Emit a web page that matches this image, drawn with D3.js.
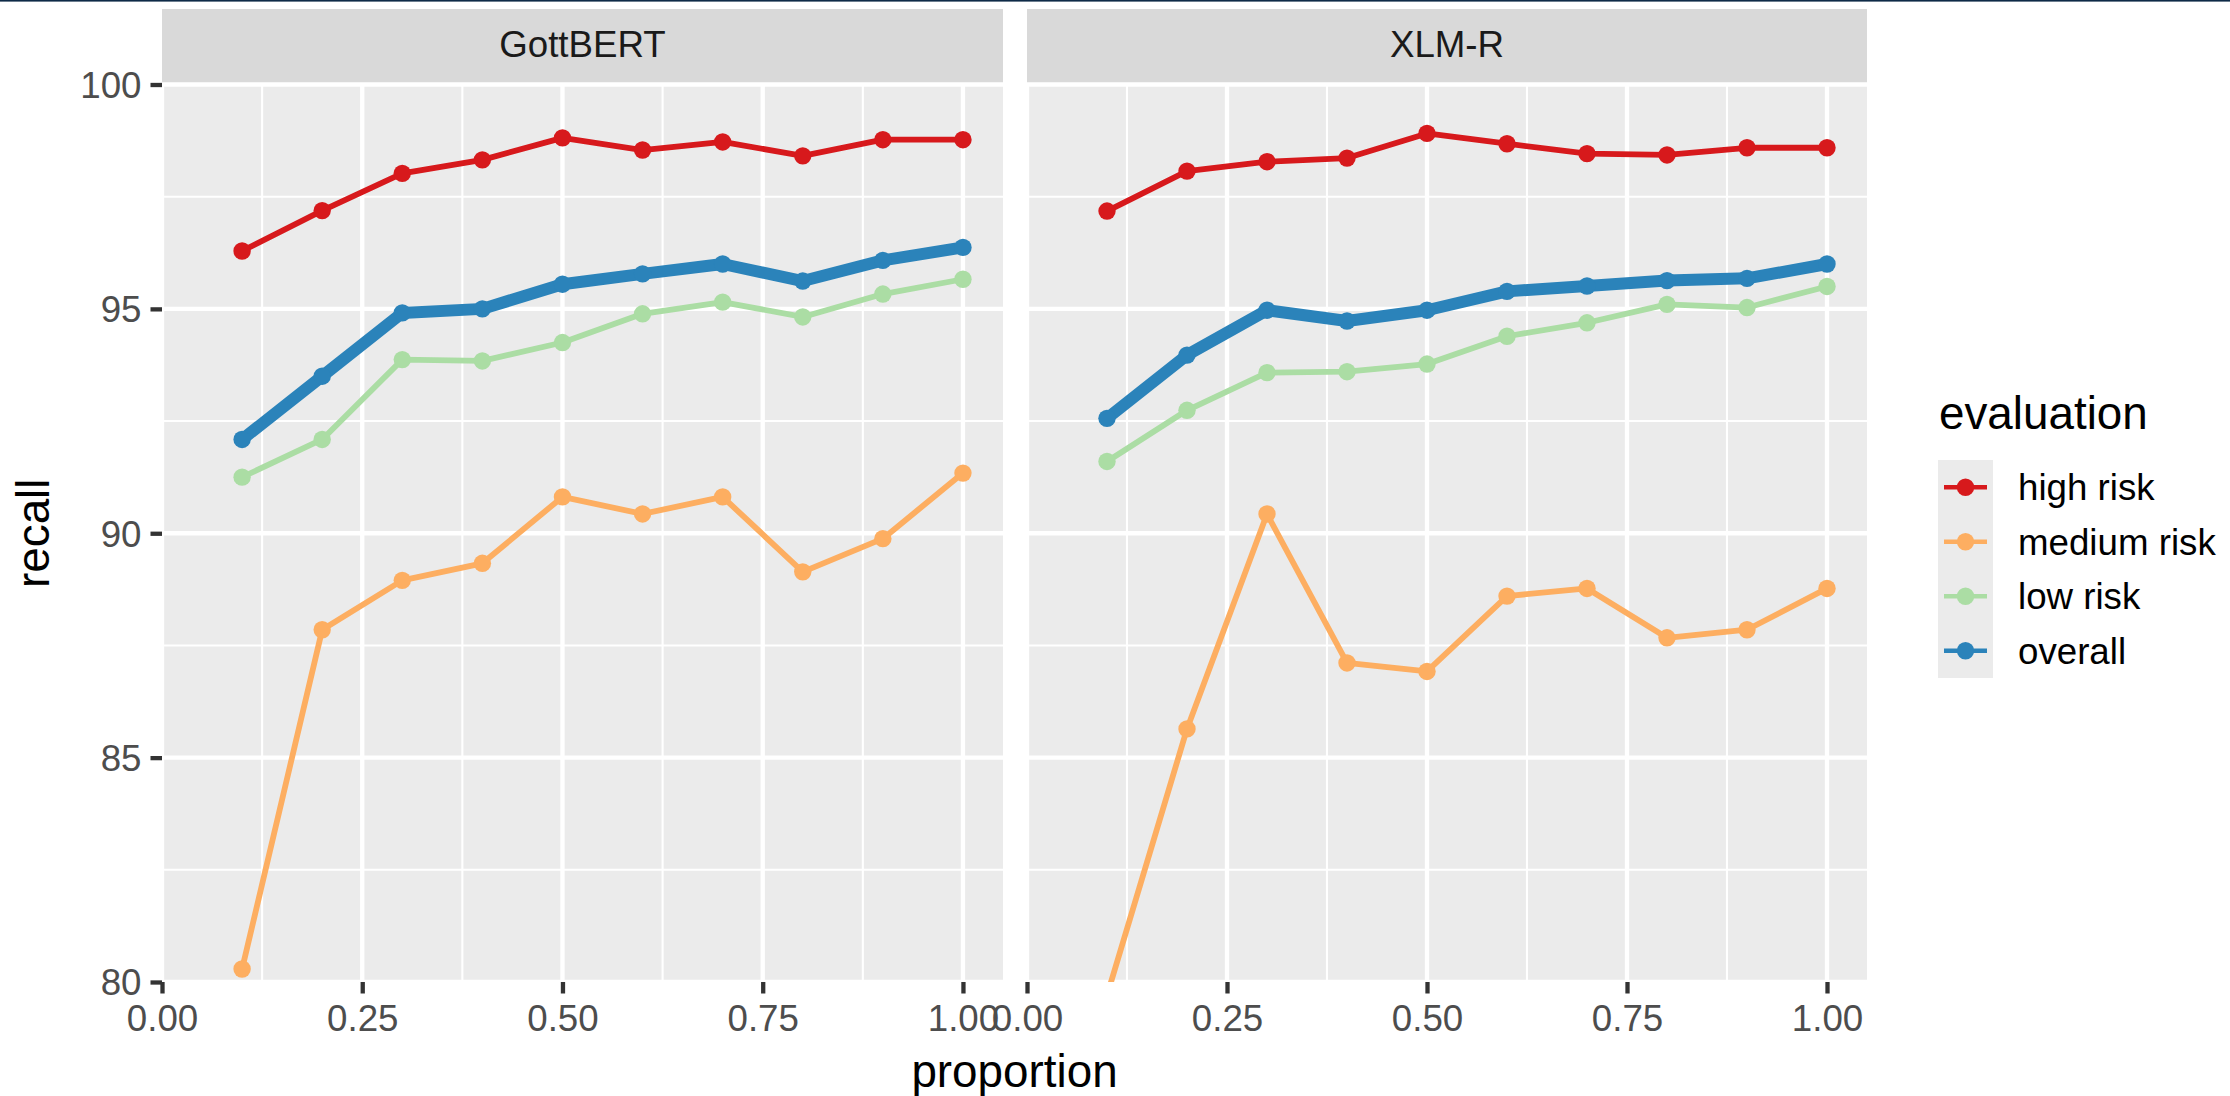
<!DOCTYPE html>
<html>
<head>
<meta charset="utf-8">
<script src="https://cdn.jsdelivr.net/npm/d3@7"></script>
<style>
  html, body { margin: 0; padding: 0; background: #ffffff; }
  svg { display: block; }
</style>
</head>
<body>
<svg id="chart" width="2230" height="1096"></svg>
<script>
// ---- data ----
const proportions = [0.1, 0.2, 0.3, 0.4, 0.5, 0.6, 0.7, 0.8, 0.9, 1.0];
const models = ["GottBERT", "XLM-R"];
const evaluations = ["high risk", "medium risk", "low risk", "overall"];

const gottbertHigh    = [96.29, 97.19, 98.02, 98.32, 98.81, 98.54, 98.72, 98.41, 98.77, 98.77];
const gottbertMedium  = [80.29, 87.85, 88.95, 89.33, 90.81, 90.43, 90.81, 89.14, 89.88, 91.34];
const gottbertLow     = [91.25, 92.09, 93.87, 93.84, 94.25, 94.89, 95.15, 94.82, 95.33, 95.66];
const gottbertOverall = [92.09, 93.50, 94.91, 95.00, 95.55, 95.78, 96.00, 95.62, 96.08, 96.37];

const xlmrHigh    = [97.18, 98.07, 98.28, 98.36, 98.91, 98.68, 98.46, 98.43, 98.59, 98.59];
const xlmrMedium  = [79.70, 85.64, 90.43, 87.11, 86.92, 88.60, 88.77, 87.67, 87.85, 88.77];
const xlmrLow     = [91.60, 92.74, 93.58, 93.60, 93.77, 94.39, 94.69, 95.10, 95.03, 95.50];
const xlmrOverall = [92.56, 93.97, 94.97, 94.73, 94.97, 95.39, 95.51, 95.63, 95.68, 96.00];

const xTicks = [0, 0.25, 0.5, 0.75, 1.0];
const xMinor = [0.125, 0.375, 0.625, 0.875];
const yTicks = [80, 85, 90, 95, 100];
const yMinor = [82.5, 87.5, 92.5, 97.5];

const seriesByModel = {
  "GottBERT": [gottbertHigh, gottbertMedium, gottbertLow, gottbertOverall],
  "XLM-R":    [xlmrHigh, xlmrMedium, xlmrLow, xlmrOverall]
};

const colors = ["#D7191C", "#FDAE61", "#ABDDA4", "#2B83BA"];

// ---- layout ----
const FONT = "'Liberation Sans', Arial, Helvetica, sans-serif";
const svg = d3.select("#chart");
const panelTop = 84.5, panelBottom = 982;
const stripTop = 9;
const panels = [{x0: 162, x1: 1003}, {x0: 1027, x1: 1867}];

// top border line seen in reference
svg.append("rect").attr("x", 0).attr("y", 0).attr("width", 2230).attr("height", 1.6).attr("fill", "#0E2A47");

const y = d3.scaleLinear().domain([80, 100]).range([panelBottom, panelTop]);

const defs = svg.append("defs");

models.forEach((m, i) => {
  const p = panels[i];
  const x = d3.scaleLinear().domain([0, 1.05]).range([p.x0, p.x1]);
  const g = svg.append("g");

  // strip
  g.append("rect").attr("x", p.x0).attr("y", stripTop).attr("width", p.x1 - p.x0)
    .attr("height", panelTop - stripTop).attr("fill", "#D9D9D9");
  g.append("text").attr("x", (p.x0 + p.x1) / 2).attr("y", 57)
    .attr("text-anchor", "middle").attr("font-family", FONT).attr("font-size", 36.7)
    .attr("fill", "#1A1A1A").text(m);

  // panel background
  g.append("rect").attr("x", p.x0).attr("y", panelTop).attr("width", p.x1 - p.x0)
    .attr("height", panelBottom - panelTop).attr("fill", "#EBEBEB");

  // minor grid
  g.selectAll(".ym").data(yMinor).join("line")
    .attr("x1", p.x0).attr("x2", p.x1).attr("y1", d => y(d)).attr("y2", d => y(d))
    .attr("stroke", "#FFFFFF").attr("stroke-width", 2.1);
  g.selectAll(".xm").data(xMinor).join("line")
    .attr("y1", panelTop).attr("y2", panelBottom).attr("x1", d => x(d)).attr("x2", d => x(d))
    .attr("stroke", "#FFFFFF").attr("stroke-width", 2.1);
  // major grid
  g.selectAll(".yM").data(yTicks).join("line")
    .attr("x1", p.x0).attr("x2", p.x1).attr("y1", d => y(d)).attr("y2", d => y(d))
    .attr("stroke", "#FFFFFF").attr("stroke-width", 4.3);
  g.selectAll(".xM").data(xTicks).join("line")
    .attr("y1", panelTop).attr("y2", panelBottom).attr("x1", d => x(d)).attr("x2", d => x(d))
    .attr("stroke", "#FFFFFF").attr("stroke-width", 4.3);

  // clip
  const cid = "clip" + i;
  defs.append("clipPath").attr("id", cid).append("rect")
    .attr("x", p.x0).attr("y", panelTop).attr("width", p.x1 - p.x0).attr("height", panelBottom - panelTop);
  const data = svg.append("g").attr("clip-path", `url(#${cid})`);

  const line = d3.line().x((d, k) => x(proportions[k])).y(d => y(d));
  const series = seriesByModel[m];
  series.forEach((vals, s) => {
    data.append("path").attr("d", line(vals)).attr("fill", "none")
      .attr("stroke", colors[s]).attr("stroke-width", s === 3 ? 12 : 5.8)
      .attr("stroke-linejoin", "round").attr("stroke-linecap", "butt");
  });
  series.forEach((vals, s) => {
    data.selectAll(null).data(vals).join("circle")
      .attr("cx", (d, k) => x(proportions[k])).attr("cy", d => y(d))
      .attr("r", 8.7).attr("fill", colors[s]);
  });

  // x axis
  const xAxis = d3.axisBottom(x).tickValues(xTicks).tickSize(11.5).tickPadding(9)
    .tickFormat(d3.format(".2f"));
  const ax = svg.append("g").attr("transform", `translate(0,${panelBottom})`).call(xAxis);
  ax.select(".domain").remove();
  ax.selectAll(".tick line").attr("stroke", "#333333").attr("stroke-width", 4.3);
  ax.selectAll(".tick text").attr("font-family", FONT).attr("font-size", 36.7)
    .attr("fill", "#4D4D4D").attr("dy", null).attr("y", 0)
    .attr("transform", "translate(0,49)");

  if (i === 0) {
    const yAxis = d3.axisLeft(y).tickValues(yTicks).tickSize(11.5).tickPadding(9).tickFormat(d3.format("d"));
    const ay = svg.append("g").attr("transform", `translate(${p.x0},0)`).call(yAxis);
    ay.select(".domain").remove();
    ay.selectAll(".tick line").attr("stroke", "#333333").attr("stroke-width", 4.3);
    ay.selectAll(".tick text").attr("font-family", FONT).attr("font-size", 36.7)
      .attr("fill", "#4D4D4D").attr("dy", "0.35em");
  }
});

// axis titles
svg.append("text").attr("x", (162 + 1867) / 2).attr("y", 1087)
  .attr("text-anchor", "middle").attr("font-family", FONT).attr("font-size", 45.8)
  .attr("fill", "#000000").text("proportion");
svg.append("text").attr("transform", `translate(49,${(panelTop + panelBottom) / 2}) rotate(-90)`)
  .attr("text-anchor", "middle").attr("font-family", FONT).attr("font-size", 45.8)
  .attr("fill", "#000000").text("recall");

// legend
const lg = svg.append("g");
lg.append("text").attr("x", 1939).attr("y", 429).attr("font-family", FONT).attr("font-size", 45.8)
  .attr("fill", "#000000").text("evaluation");
const keyY0 = 460, keyH = 54.5, keyX0 = 1938, keyW = 55;
lg.append("rect").attr("x", keyX0).attr("y", keyY0).attr("width", keyW).attr("height", keyH * 4).attr("fill", "#EBEBEB");
evaluations.forEach((e, k) => {
  const cy = keyY0 + keyH * (k + 0.5);
  lg.append("line").attr("x1", keyX0 + 6).attr("x2", keyX0 + keyW - 6).attr("y1", cy).attr("y2", cy)
    .attr("stroke", colors[k]).attr("stroke-width", 4.3);
  lg.append("circle").attr("cx", keyX0 + keyW / 2).attr("cy", cy).attr("r", 8.7).attr("fill", colors[k]);
  lg.append("text").attr("x", 2018).attr("y", cy).attr("dy", "0.35em").attr("font-family", FONT)
    .attr("font-size", 36.7).attr("fill", "#000000").text(e);
});
</script>
</body>
</html>
